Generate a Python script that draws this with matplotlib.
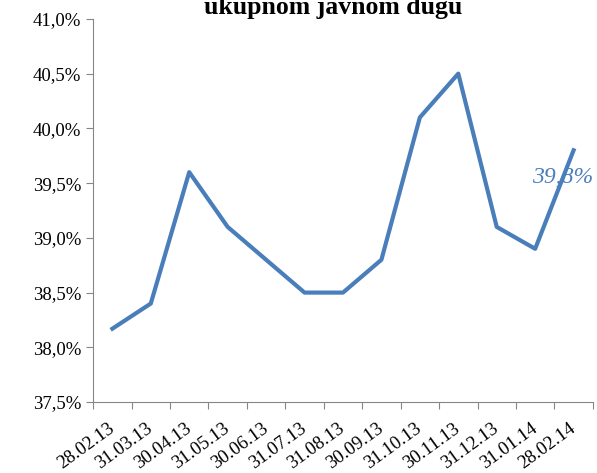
import numpy as np
import matplotlib.pyplot as plt
import matplotlib.transforms as mtransforms
from matplotlib.ticker import FuncFormatter

plt.rcParams['font.family'] = ['Liberation Serif', 'DejaVu Serif']

dates = ['28.02.13', '31.03.13', '30.04.13', '31.05.13', '30.06.13', '31.07.13',
         '31.08.13', '30.09.13', '31.10.13', '30.11.13', '31.12.13', '31.01.14', '28.02.14']
values = [38.17, 38.4, 39.6, 39.1, 38.8, 38.5, 38.5, 38.8, 40.1, 40.5, 39.1, 38.9, 39.8]
last_label = '39,8%'

fig = plt.figure(figsize=(5.97, 4.73), dpi=100)
ax = fig.add_axes([0.156, 0.15, 0.837, 0.81])

x = np.arange(len(dates))
ax.plot(x, values, color='#4a7ebb', linewidth=3)
ax.text(x[-1] - 0.28, values[-1] - 0.25, last_label, color='#4a7ebb', fontsize=17,
        style='italic', ha='center', va='center')

ax.set_xlim(-0.5, len(dates) - 0.5)
ax.set_ylim(37.5, 41.0)
ax.set_yticks(np.arange(37.5, 41.01, 0.5))
ax.yaxis.set_major_formatter(FuncFormatter(lambda v, p: f'{v:.1f}%'.replace('.', ',')))
ax.set_xticks(np.arange(-0.5, len(dates), 1), minor=False)
ax.set_xticklabels([])
ax.set_xticks(x, minor=True)
ax.set_xticklabels(dates, minor=True, rotation=36, ha='right', va='top',
                   rotation_mode='anchor', fontsize=13.5)
ax.tick_params(axis='x', which='minor', length=0, pad=13)
ax.tick_params(axis='x', which='major', length=5, color='#868686', direction='out')
ax.tick_params(axis='y', length=5, color='#868686', labelsize=13.5)

# shift the rotated date labels a little to the left
shift = mtransforms.ScaledTranslation(-0.05, 0, fig.dpi_scale_trans)
for lbl in ax.get_xticklabels(minor=True):
    lbl.set_transform(lbl.get_transform() + shift)

for s in ['top', 'right']:
    ax.spines[s].set_visible(False)
for s in ['left', 'bottom']:
    ax.spines[s].set_color('#868686')

fig.text(0.558, 0.97, 'ukupnom javnom dugu', ha='center', va='baseline',
         fontsize=18.5, fontweight='bold')

fig.savefig('out.png', dpi=100)
